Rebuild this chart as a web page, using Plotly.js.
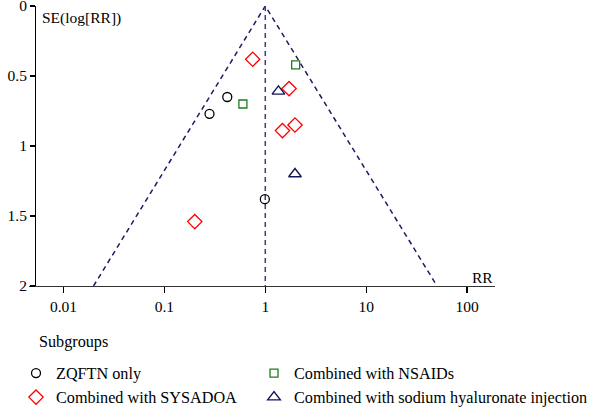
<!DOCTYPE html>
<html>
<head>
<meta charset="utf-8">
<script src="https://cdn.plot.ly/plotly-3.0.1.min.js"></script>
<style>html,body{margin:0;padding:0;background:#fff}#chart{width:593px;height:410px}</style>
</head>
<body>
<div id="chart"></div>
<script>
// ---- data ----
const groupNames = ["ZQFTN only", "Combined with NSAIDs", "Combined with SYSADOA", "Combined with sodium hyaluronate injection"];

const zqftnRR = [0.28, 0.42, 0.99];
const zqftnSE = [0.77, 0.65, 1.38];

const nsaidsRR = [0.60, 2.00];
const nsaidsSE = [0.70, 0.42];

const sysadoaRR = [0.75, 1.72, 1.48, 1.97, 0.20];
const sysadoaSE = [0.38, 0.59, 0.89, 0.85, 1.54];

const hyalRR = [1.35, 1.97];
const hyalSE = [0.61, 1.20];

const pooledRR = 1;
const seLimits = [0, 2];
const xTickVals = [0.01, 0.1, 1, 10, 100];
const xTickText = ["0.01", "0.1", "1", "10", "100"];
const yTickVals = [0, 0.5, 1, 1.5, 2];
const yTickText = ["0", "0.5", "1", "1.5", "2"];

// funnel from pooled estimate: RR = pooled * exp(±1.96*SE)
const seMax = seLimits[1];
const funnelX = [pooledRR * Math.exp(-1.96 * seMax), pooledRR, pooledRR * Math.exp(1.96 * seMax)];
const funnelY = [seMax, seLimits[0], seMax];

const FONT = "Liberation Serif, Times New Roman, serif";
const navy = "#1c1c66";

const traces = [
  {x: funnelX, y: funnelY, mode: "lines", showlegend: false, hoverinfo: "skip",
   line: {color: navy, width: 1.5, dash: "5px,4px"}},
  {x: [pooledRR, pooledRR], y: seLimits, mode: "lines", showlegend: false, hoverinfo: "skip",
   line: {color: "#3c3c82", width: 1.5, dash: "5px,4px"}},
  {x: zqftnRR, y: zqftnSE, mode: "markers", name: groupNames[0],
   marker: {symbol: "circle-open", size: 9, color: "#000", line: {width: 1.3}}},
  {x: nsaidsRR, y: nsaidsSE, mode: "markers", name: groupNames[1],
   marker: {symbol: "square-open", size: 8, color: "#1e7d1e", line: {width: 1.3}}},
  {x: sysadoaRR, y: sysadoaSE, mode: "markers", name: groupNames[2],
   marker: {symbol: "diamond-open", size: 11, color: "#ff0000", line: {width: 1.3}}},
  {x: hyalRR, y: hyalSE, mode: "markers", name: groupNames[3],
   marker: {symbol: "triangle-up-open", size: 11, color: "#14145e", line: {width: 1.4}}}
];

const xRange = [-2.342, 2.277];
const yRange = [2, 0];
const PW = 466, PH = 280; // plot area size in px (for paper-coordinate placement)
const yPos = 6 / PW;

const layout = {
  width: 593, height: 410,
  margin: {l: 29, r: 98, t: 6, b: 124, autoexpand: false},
  paper_bgcolor: "#fff", plot_bgcolor: "#fff",
  font: {family: FONT, size: 15.5, color: "#000"},
  showlegend: true,
  xaxis: {type: "log", range: xRange, tickvals: xTickVals, ticktext: xTickText,
          showgrid: false, zeroline: false, showline: true, linecolor: "#333", linewidth: 1.2,
          ticks: "outside", ticklen: 6, tickwidth: 1.2, tickcolor: "#000",
          tickfont: {family: FONT, size: 15.5, color: "#000"}, anchor: "y"},
  xaxis2: {type: "log", range: xRange, tickvals: xTickVals, showticklabels: false,
           overlaying: "x", anchor: "y", side: "bottom",
           showgrid: false, zeroline: false, showline: false,
           ticks: "inside", ticklen: 6, tickwidth: 1.2, tickcolor: "#000"},
  yaxis: {range: yRange, tickvals: yTickVals, ticktext: yTickText,
          anchor: "free", position: yPos, ticklabeloverflow: "allow",
          showgrid: false, zeroline: false, showline: true, linecolor: "#000", linewidth: 1.2,
          ticks: "outside", ticklen: 5, tickwidth: 1.2, tickcolor: "#000",
          tickfont: {family: FONT, size: 15.5, color: "#000"}},
  yaxis2: {range: yRange, tickvals: yTickVals, showticklabels: false,
           overlaying: "y", anchor: "free", position: yPos,
           showgrid: false, zeroline: false, showline: false,
           ticks: "inside", ticklen: 6, tickwidth: 1.2, tickcolor: "#000"},
  legend: {orientation: "h",
           x: (16 - 29) / PW, y: 1 - (356 - 6) / PH, xanchor: "left", yanchor: "top",
           entrywidth: 193, entrywidthmode: "pixels",
           font: {family: FONT, size: 16.2, color: "#000"},
           bgcolor: "rgba(0,0,0,0)", traceorder: "normal"},
  annotations: [
    {text: "SE(log[RR])", xref: "paper", yref: "paper", x: 11 / PW, y: 1 - 12 / PH,
     xanchor: "left", yanchor: "middle", showarrow: false, font: {family: FONT, size: 15.5}},
    {text: "RR", xref: "paper", yref: "paper", x: 1, y: 9 / PH,
     xanchor: "right", yanchor: "middle", showarrow: false, font: {family: FONT, size: 15.5}},
    {text: "Subgroups", xref: "paper", yref: "paper", x: (37 - 29) / PW, y: 1 - (342 - 6) / PH,
     xanchor: "left", yanchor: "middle", showarrow: false, font: {family: FONT, size: 16.2}}
  ]
};

Plotly.newPlot("chart", traces, layout, {displayModeBar: false, staticPlot: true}).then(function (gd) {
  // let the long last legend entry run past the fixed entry width instead of being clipped
  gd.querySelectorAll(".legend .scrollbox").forEach(function (el) { el.removeAttribute("clip-path"); });
});
</script>
</body>
</html>
